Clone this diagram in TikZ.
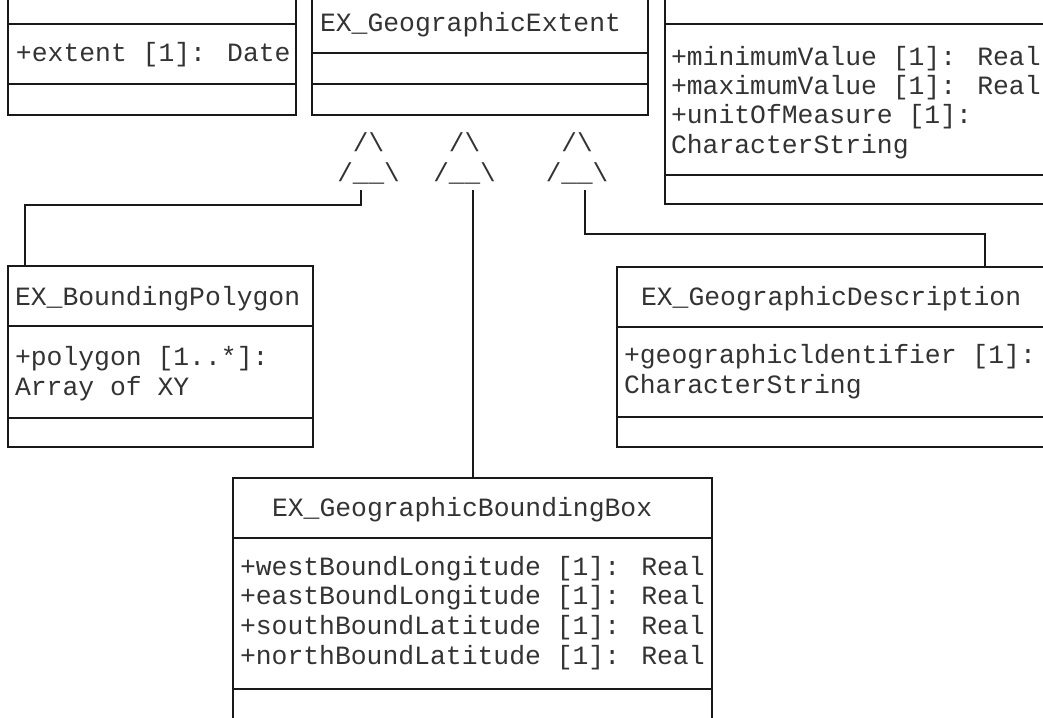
\documentclass[tikz,border=0pt]{standalone}
\usepackage{fontspec}
\setmainfont{Liberation Mono}
\begin{document}
\begin{tikzpicture}[x=1pt,y=-1pt,
  ln/.style={line width=1.8pt, draw=black!90},
  box/.style={ln, rectangle, inner sep=0pt, outer sep=0pt, anchor=north west},
  txt/.style={inner sep=0pt, outer sep=0pt, anchor=base west, font=\fontsize{26.4}{29}\selectfont, text=black!80},
  tri/.style={inner sep=0pt, outer sep=0pt, anchor=base, font=\fontsize{26}{29}\selectfont, text=black!80}]
\useasboundingbox (0,0) rectangle (1043,717);
\clip (0,0) rectangle (1043,717);

% boxes
\node[box, minimum width=288pt, minimum height=135pt] (dateBox) at (8,-20) {};
\node[box, minimum width=336pt, minimum height=135pt] (extBox) at (312,-20) {};
\node[box, minimum width=440pt, minimum height=224pt] (valBox) at (665,-20) {};
\node[box, minimum width=305pt, minimum height=181pt] (polyBox) at (8,266) {};
\node[box, minimum width=480pt, minimum height=180pt] (descBox) at (617,267) {};
\node[box, minimum width=479pt, minimum height=270pt] (bboxBox) at (233,478) {};

% compartment separators
\draw[ln] (8,24) -- (296,24) (8,84) -- (296,84);
\draw[ln] (312,53) -- (648,53) (312,84) -- (648,84);
\draw[ln] (665,24) -- (1043,24) (665,175) -- (1043,175);
\draw[ln] (8,326) -- (313,326) (8,418) -- (313,418);
\draw[ln] (617,327) -- (1043,327) (617,417) -- (1043,417);
\draw[ln] (233,538) -- (712,538) (233,689) -- (712,689);

% texts
\node[txt] (tDate) at (16,61) {+extent [1]: Date};
\node[txt] (tExt) at (320,32) {EX\_GeographicExtent};
\node[txt] (tMin) at (671,65) {+minimumValue [1]: Real};
\node[txt] (tMax) at (671,94) {+maximumValue [1]: Real};
\node[txt] (tUom) at (671,123) {+unitOfMeasure [1]:};
\node[txt] (tUomT) at (671,153) {CharacterString};
\node[txt] (tPoly) at (15,305) {EX\_BoundingPolygon};
\node[txt] (tPolyA) at (15,365) {+polygon [1..*]:};
\node[txt] (tPolyB) at (15,395) {Array of XY};
\node[txt] (tDesc) at (641,305) {EX\_GeographicDescription};
\node[txt] (tDescA) at (624,363) {+geographicldentifier [1]:};
\node[txt] (tDescB) at (624,393) {CharacterString};
\node[txt] (tBbox) at (272,516) {EX\_GeographicBoundingBox};
\node[txt] (tW) at (240,575) {+westBoundLongitude [1]: Real};
\node[txt] (tE) at (240,604) {+eastBoundLongitude [1]: Real};
\node[txt] (tS) at (240,634) {+southBoundLatitude [1]: Real};
\node[txt] (tN) at (240,664) {+northBoundLatitude [1]: Real};

% generalization triangles
\node[tri] (tri1a) at (368.5,151) {/\textbackslash};
\node[tri] (tri1b) at (368.5,181) {/\_\_\textbackslash};
\node[tri] (tri2a) at (464.5,151) {/\textbackslash};
\node[tri] (tri2b) at (464.5,181) {/\_\_\textbackslash};
\node[tri] (tri3a) at (577,151) {/\textbackslash};
\node[tri] (tri3b) at (577,181) {/\_\_\textbackslash};

\coordinate (t1) at (361,190);
\coordinate (t2) at (473,190);
\coordinate (t3) at (585,190);

% connectors
\draw[ln] (t1) -- ++(0,15) -| ([xshift=17pt]polyBox.north west);
\draw[ln] (t2) -- (t2 |- bboxBox.north);
\draw[ln] (t3) -- ++(0,44) -| ([xshift=368pt]descBox.north west);
\end{tikzpicture}
\end{document}
